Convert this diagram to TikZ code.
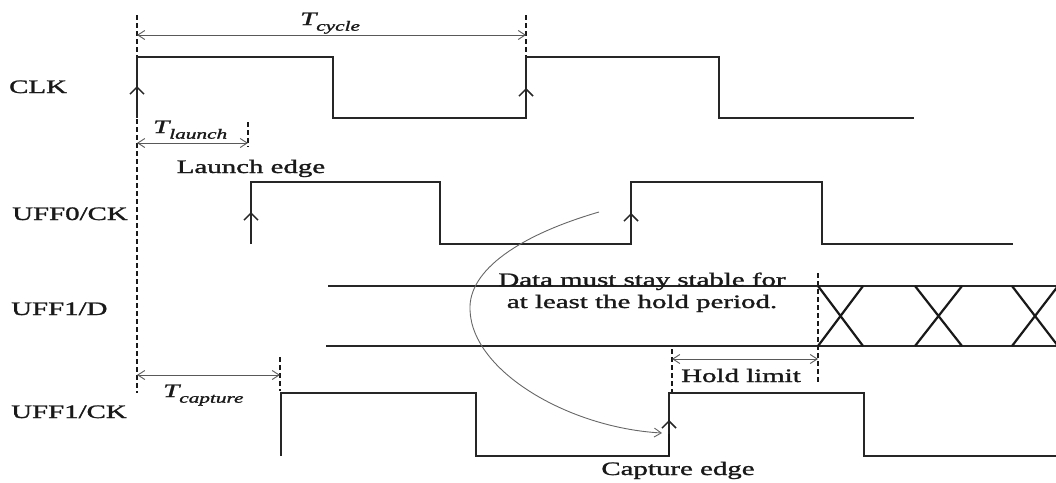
\documentclass[tikz,border=0pt]{standalone}
\usepackage{fontspec}
\setmainfont{Liberation Serif}[FakeBold=1.2]
\usetikzlibrary{arrows.meta}
\newcommand{\wide}[1]{\scalebox{1.52}[1]{#1}}
\newcommand{\tlab}[1]{\wide{\itshape T\raisebox{-0.3em}{\fontsize{14}{16}\selectfont #1}}}
\begin{document}
\begin{tikzpicture}[x=1pt,y=-1pt,
  wave/.style={draw=black!85, line width=1.6pt, line join=miter},
  xwave/.style={draw=black!90, line width=2.2pt},
  guide/.style={draw=black!90, line width=1.5pt, dash pattern=on 5pt off 3pt},
  dimline/.style={draw=black!65, line width=0.9pt,
    {Straight Barb[length=7pt,width=9pt]}-{Straight Barb[length=7pt,width=9pt]}},
  chev/.style={draw=black!85, line width=1.5pt, -{Straight Barb[length=7pt,width=14pt]}},
  lbl/.style={font=\fontsize{19}{22}\selectfont, text=black!90, inner sep=0pt},
  curv/.style={draw=black!60, line width=0.9pt, -{Straight Barb[length=7pt,width=9pt]}}]
\useasboundingbox (0,0) rectangle (1056,482);

% ---------- labels ----------
\node[lbl, anchor=base west] (lclk) at (9,93) {\wide{CLK}};
\node[lbl, anchor=base west] (luff0) at (12,220) {\wide{UFF0/CK}};
\node[lbl, anchor=base west] (luffd) at (11,315) {\wide{UFF1/D}};
\node[lbl, anchor=base west] (luff1) at (11,418) {\wide{UFF1/CK}};

% ---------- guide coordinates ----------
\coordinate (g0t) at (137,15);   \coordinate (g0b) at (137,393);
\coordinate (g1t) at (526,15);   \coordinate (g1b) at (526,57);
\coordinate (g2t) at (248,122);  \coordinate (g2b) at (248,147);
\coordinate (g3t) at (280,357);  \coordinate (g3b) at (280,391);
\coordinate (g4t) at (672,349);  \coordinate (g4b) at (672,392);
\coordinate (g5t) at (818,273);  \coordinate (g5b) at (818,384);
\draw[guide] (g0t) -- (g0b);
\draw[guide] (g1t) -- (g1b);
\draw[guide] (g2t) -- (g2b);
\draw[guide] (g3t) -- (g3b);
\draw[guide] (g4t) -- (g4b);
\draw[guide] (g5t) -- (g5b);

% ---------- CLK ----------
\draw[wave] (137,118) -- (137,57) -- (333,57) -- (333,118) -- (526,118)
  -- (526,57) -- (719,57) -- (719,118) -- (914,118);
\coordinate (c1a) at (137,100); \coordinate (c1b) at (137,86);
\coordinate (c2a) at (526,102); \coordinate (c2b) at (526,88);
\draw[chev] (c1a) -- (c1b);
\draw[chev] (c2a) -- (c2b);

% ---------- UFF0/CK ----------
\draw[wave] (251,244) -- (251,182) -- (440,182) -- (440,244) -- (631,244)
  -- (631,182) -- (822,182) -- (822,244) -- (1013,244);
\coordinate (c3a) at (251,226); \coordinate (c3b) at (251,212);
\coordinate (c4a) at (631,227); \coordinate (c4b) at (631,213);
\draw[chev] (c3a) -- (c3b);
\draw[chev] (c4a) -- (c4b);

% ---------- UFF1/D ----------
\draw[wave] (328,286) -- (1060,286);
\draw[wave] (326,346) -- (1060,346);
\draw[xwave] (818,286) -- (863,346) (863,286) -- (818,346);
\draw[xwave] (915,286) -- (962,346) (962,286) -- (915,346);
\draw[xwave] (1012,286) -- (1058,346) (1058,286) -- (1012,346);

% ---------- UFF1/CK ----------
\draw[wave] (281,456) -- (281,393) -- (476,393) -- (476,456) -- (669,456)
  -- (669,393) -- (864,393) -- (864,456) -- (1060,456);
\coordinate (c5a) at (669,456); \coordinate (c5b) at (669,420);
\draw[line width=2.8pt, draw=black!90] (c5a) -- (c5b);
\draw[chev] (669,434) -- (669,420);

% ---------- dimensions ----------
\coordinate (d1a) at (137,35);  \coordinate (d1b) at (526,35);
\coordinate (d2a) at (137,143); \coordinate (d2b) at (248,143);
\coordinate (d3a) at (137,375); \coordinate (d3b) at (280,375);
\coordinate (d4a) at (672,359); \coordinate (d4b) at (818,359);
\draw[dimline] (d1a) -- (d1b);
\draw[dimline] (d2a) -- (d2b);
\draw[dimline] (d3a) -- (d3b);
\draw[dimline] (d4a) -- (d4b);

\node[lbl, anchor=base west] (tcyc) at (300,25) {\tlab{cycle}};
\node[lbl, anchor=base west] (tlau) at (153,133) {\tlab{launch}};
\node[lbl, anchor=base west] (tcap) at (163,397) {\tlab{capture}};
\node[lbl, anchor=base] (ledge) at (251,173) {\wide{Launch edge}};
\node[lbl, anchor=base] (hold) at (741,382) {\wide{Hold limit}};
\node[lbl, anchor=base] (cedge) at (678,475) {\wide{Capture edge}};
\node[lbl, anchor=base, align=center] (stab) at (642,308)
  {\wide{Data must stay stable for}\\[0pt]\wide{at least the hold period.}};

% ---------- curved arrow ----------
\coordinate (cs) at (599,212);
\coordinate (cm) at (470,310);
\coordinate (ce) at (662,433);
\draw[curv] (cs) .. controls (520,235) and (468,270) .. (cm)
  .. controls (472,372) and (570,428) .. (ce);
\end{tikzpicture}
\end{document}
